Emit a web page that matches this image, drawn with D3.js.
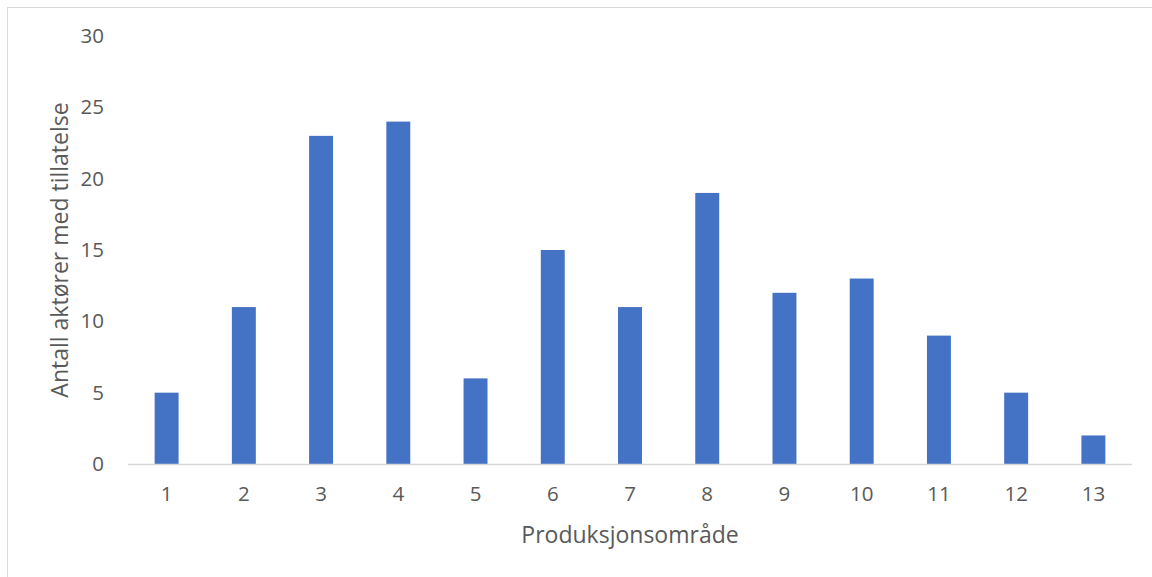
<!DOCTYPE html>
<html>
<head>
<meta charset="utf-8">
<script src="https://cdn.jsdelivr.net/npm/d3@7"></script>
<style>
  html, body { margin: 0; padding: 0; background: #fff; }
  svg { display: block; }
  text { font-family: "Open Sans", "Noto Sans", sans-serif; fill: #595959; }
</style>
</head>
<body>
<svg id="chart" width="1152" height="577"></svg>
<script>
// Number of licensed operators per production area
const areas = ["1","2","3","4","5","6","7","8","9","10","11","12","13"];
const operators = [5, 11, 23, 24, 6, 15, 11, 19, 12, 13, 9, 5, 2];
const yTicks = [0, 5, 10, 15, 20, 25, 30];

const svg = d3.select("#chart");
const W = 1152, H = 577;

// Chart frame (runs past the right and bottom edges)
svg.append("rect")
  .attr("x", 7.5).attr("y", 7.5)
  .attr("width", W + 10).attr("height", H + 10)
  .attr("fill", "#fff").attr("stroke", "#d9d9d9").attr("stroke-width", 1);

const plot = { left: 128, right: 1132, top: 36, bottom: 464 };

const x = d3.scaleBand()
  .domain(areas)
  .range([plot.left, plot.right])
  .paddingInner(0.69)
  .paddingOuter(0.345);

const y = d3.scaleLinear()
  .domain([0, 30])
  .range([plot.bottom, plot.top]);

// Bars
svg.append("g").selectAll("rect")
  .data(areas)
  .join("rect")
  .attr("x", d => x(d))
  .attr("width", x.bandwidth())
  .attr("y", (d, i) => y(operators[i]))
  .attr("height", (d, i) => y(0) - y(operators[i]))
  .attr("fill", "#4472c4");

// Baseline
svg.append("line")
  .attr("x1", plot.left).attr("x2", plot.right)
  .attr("y1", y(0) + 0.5).attr("y2", y(0) + 0.5)
  .attr("stroke", "#d9d9d9").attr("stroke-width", 1.5);

// Y axis labels
const yAxis = d3.axisLeft(y).tickValues(yTicks).tickSize(0).tickPadding(0);
const gy = svg.append("g").attr("transform", "translate(104,0)").call(yAxis);
gy.select(".domain").remove();
gy.selectAll("text")
  .attr("font-size", 20.5)
  .attr("fill", "#595959")
  .style("font-family", "'Open Sans', 'Noto Sans', sans-serif");

// X axis labels
const xAxis = d3.axisBottom(x).tickSize(0).tickPadding(0);
const gx = svg.append("g").attr("transform", `translate(0,${plot.bottom + 22})`).call(xAxis);
gx.select(".domain").remove();
gx.selectAll("text")
  .attr("font-size", 20.5)
  .attr("fill", "#595959")
  .style("font-family", "'Open Sans', 'Noto Sans', sans-serif");

// Axis titles
svg.append("text")
  .attr("x", 630).attr("y", 543)
  .attr("text-anchor", "middle")
  .attr("font-size", 23)
  .text("Produksjonsområde");

svg.append("text")
  .attr("transform", "translate(68,250) rotate(-90)")
  .attr("text-anchor", "middle")
  .attr("font-size", 23)
  .text("Antall aktører med tillatelse");
</script>
</body>
</html>
